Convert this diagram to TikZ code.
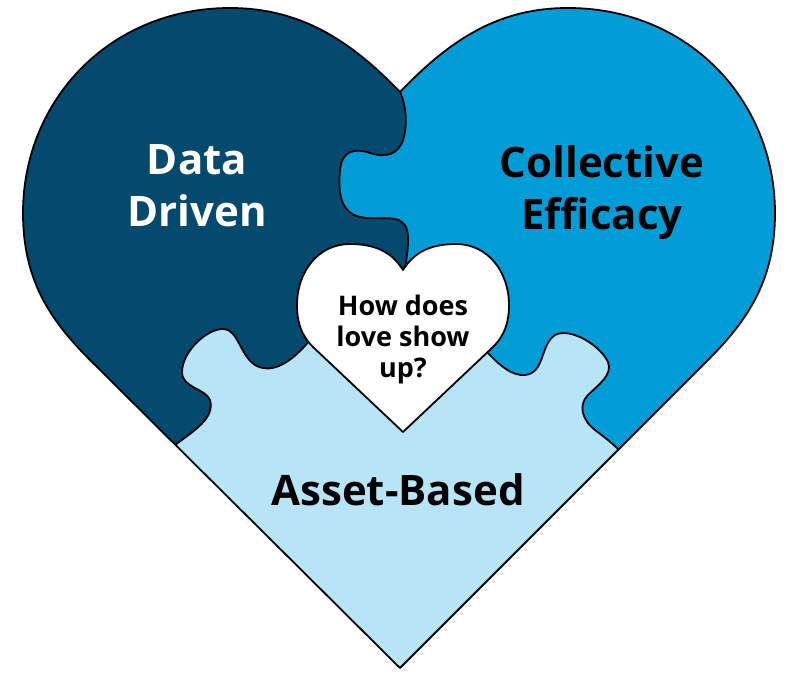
\documentclass[tikz,border=0pt]{standalone}
\usepackage{fontspec}
\setmainfont{Open Sans}
\definecolor{navy}{RGB}{3,74,110}
\definecolor{sky}{RGB}{2,156,214}
\definecolor{pale}{RGB}{184,228,247}
% outlines, in pixel units of the picture (y downwards)
\newcommand{\heartpath}{(400,92) .. controls (350,40) and (300,8) .. (230,8) .. controls (110,8) and (23,100) .. (23,213) .. controls (23,280) and (50,320) .. (90,360) -- (400,668) -- (708,360) .. controls (748,320) and (775,280) .. (775,213) .. controls (775,100) and (688,8) .. (568,8) .. controls (498,8) and (450,40) .. (400,92) -- cycle}
\newcommand{\smallheart}{(403,270) .. controls (392,252) and (375,244) .. (350,244) .. controls (318,244) and (297,272) .. (297,305) .. controls (297,322) and (301,335) .. (313,347) -- (403,432) -- (493,347) .. controls (505,335) and (509,322) .. (509,305) .. controls (509,272) and (488,244) .. (456,244) .. controls (431,244) and (414,252) .. (403,270) -- cycle}
\newcommand{\seamA}{(400,92) .. controls (406,105) and (408,125) .. (403,140) .. controls (398,155) and (385,158) .. (370,153) .. controls (355,148) and (342,150) .. (340,170) .. controls (338,192) and (340,212) .. (360,217) .. controls (380,221) and (402,212) .. (407,230) .. controls (410,242) and (406,260) .. (404,276)}
\newcommand{\seamB}{(310,340) .. controls (292,362) and (272,375) .. (255,365) .. controls (240,355) and (238,330) .. (224,329) .. controls (207,328) and (182,352) .. (182,372) .. controls (182,388) and (205,388) .. (210,400) .. controls (215,418) and (195,430) .. (175,445)}
\newcommand{\seamC}{(485,350) .. controls (500,366) and (512,376) .. (525,375) .. controls (545,373) and (540,345) .. (555,335) .. controls (570,327) and (600,345) .. (608,362) .. controls (613,375) and (598,385) .. (588,395) .. controls (578,405) and (582,420) .. (595,430) .. controls (603,436) and (612,443) .. (618,449)}
\tikzset{
  seam/.style={draw=black, line width=1.8pt, line join=round},
  bigtext/.style={font=\fontsize{42}{52}\selectfont\bfseries, align=center, inner sep=0pt},
  smalltext/.style={font=\fontsize{27}{31}\selectfont\bfseries, align=center, inner sep=0pt}
}
\begin{document}
\begin{tikzpicture}[x=1pt, y=-1pt]
  \useasboundingbox (0,0) rectangle (787,673);
  \fill[pale] \heartpath;
  \begin{scope}
    \clip \heartpath;
    \fill[navy] (400,-20) -- \seamA -- (403,320) -- \seamB -- (140,480) -- (-20,480) -- (-20,-20) -- cycle;
    \fill[sky] (400,-20) -- \seamA -- (403,320) -- \seamC -- (655,485) -- (820,485) -- (820,-20) -- cycle;
  \end{scope}
  \draw[seam] \seamA;
  \draw[seam] \seamB;
  \draw[seam] \seamC;
  \path[seam, fill=white] \smallheart;
  \draw[seam] \heartpath;
  % labels
  \node[bigtext, text=white] (datadriven) at (197,186) {Data\\Driven};
  \node[bigtext] (efficacy) at (602,193) {Collective\\Efficacy};
  \node[bigtext, anchor=base] (assets) at (398,505) {Asset-Based};
  \node[smalltext] (question) at (403,339) {How does\\love show\\up?};
\end{tikzpicture}
\end{document}
